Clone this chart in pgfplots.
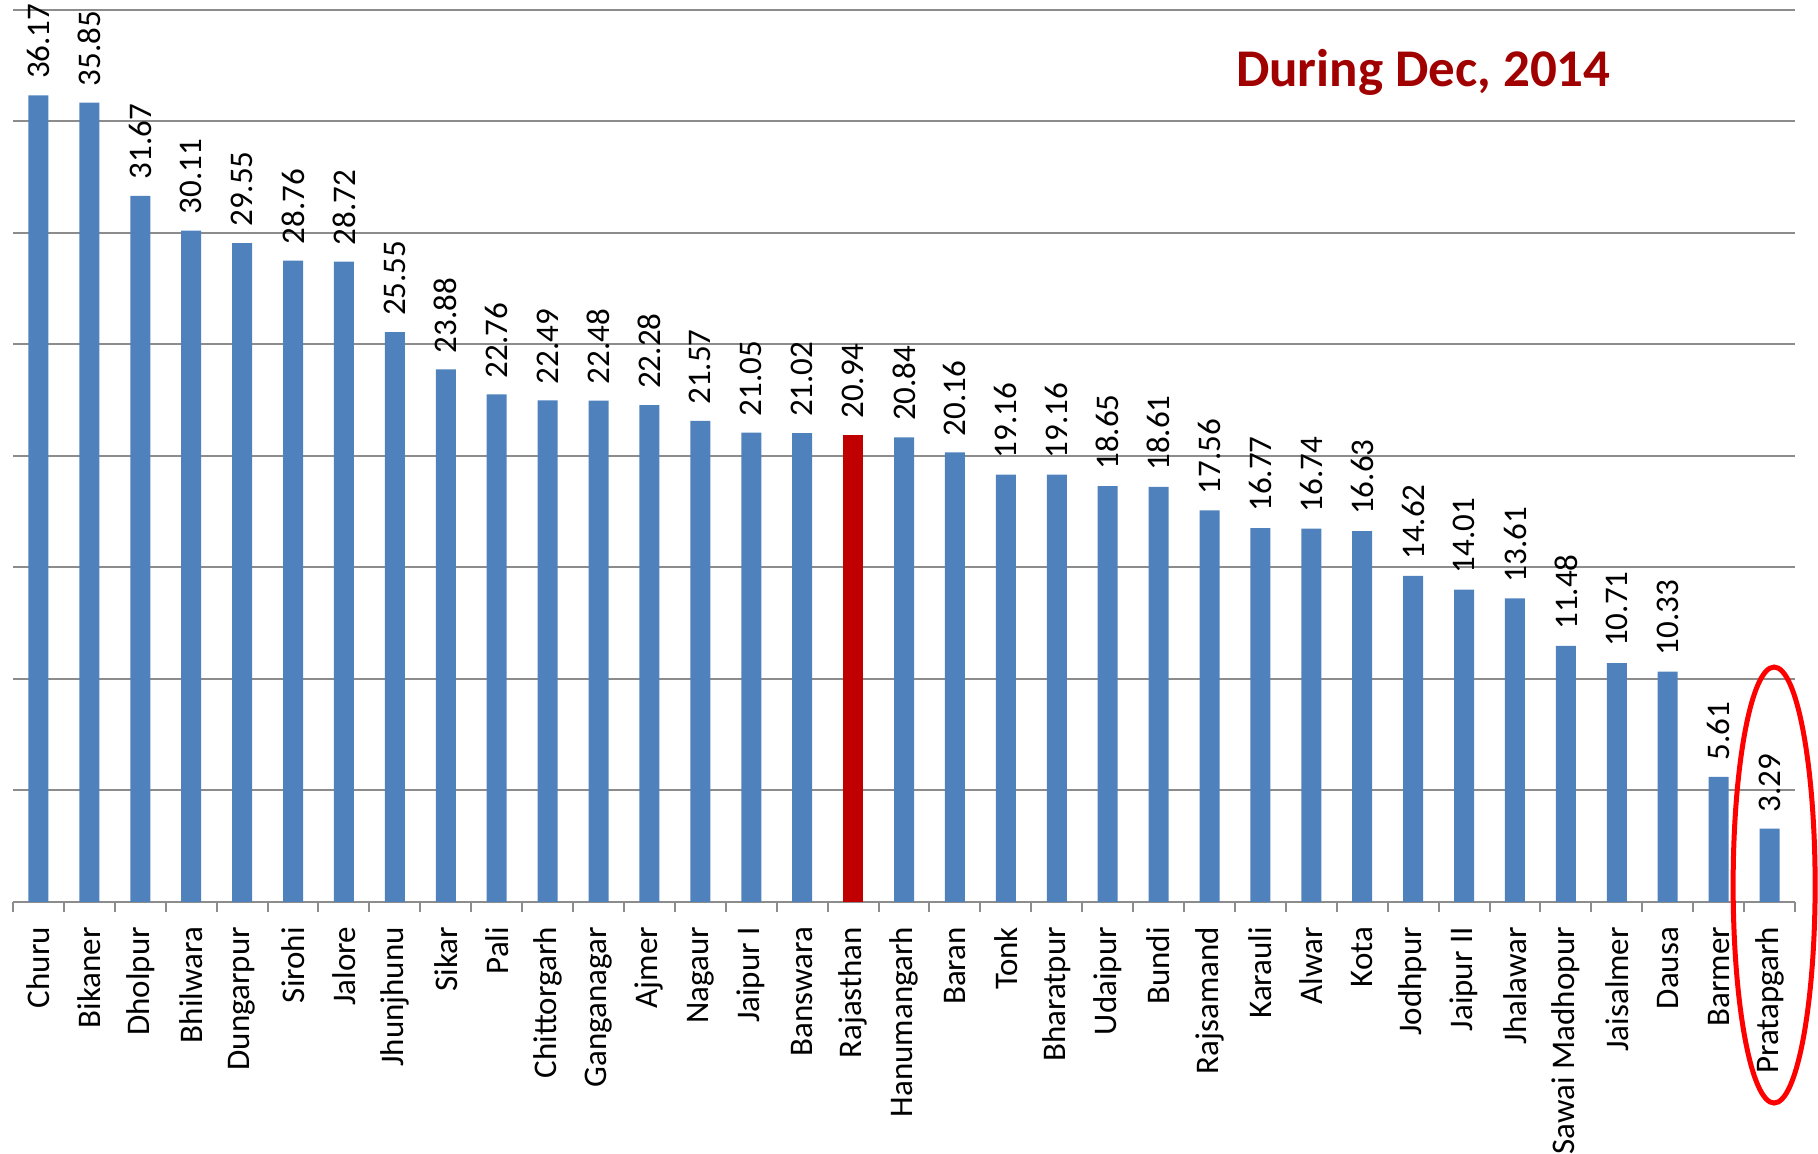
\documentclass[border=0pt]{standalone}
\usepackage{pgfplots}
\pgfplotsset{compat=1.18}
\usepackage{fontspec}
\setmainfont{Carlito}
\definecolor{barblue}{HTML}{4F81BD}
\definecolor{barred}{HTML}{C00000}
\definecolor{titlered}{HTML}{A00000}
\definecolor{gridgray}{HTML}{8C8C8C}

\begin{document}
\begin{tikzpicture}
\begin{axis}[
    scale only axis,
    width=891pt, height=446pt,
    xmin=-0.5, xmax=34.5,
    ymin=0, ymax=40,
    clip=false,
    axis lines*=left,
    y axis line style={draw=none},
    x axis line style={-, draw=gridgray, line width=1pt},
    ytick={5,10,...,40},
    yticklabels={},
    ytick style={draw=none},
    ymajorgrids,
    major grid style={draw=gridgray, line width=1pt},
    xtick={0,...,34},
    xticklabels={Churu,Bikaner,Dholpur,Bhilwara,Dungarpur,Sirohi,Jalore,Jhunjhunu,Sikar,Pali,Chittorgarh,Ganganagar,Ajmer,Nagaur,Jaipur I,Banswara,Rajasthan,Hanumangarh,Baran,Tonk,Bharatpur,Udaipur,Bundi,Rajsamand,Karauli,Alwar,Kota,Jodhpur,Jaipur II,Jhalawar,Sawai Madhopur,Jaisalmer,Dausa,Barmer,Pratapgarh},
    major tick length=0pt,
    minor xtick={-0.5,0.5,...,34.5},
    minor tick length=5pt,
    tick align=outside,
    minor tick style={draw=gridgray, line width=1pt},
    xticklabel style={yshift=-9pt, rotate=90, anchor=east, font=\fontsize{16.5}{18}\selectfont},
    nodes near coords,
    every node near coord/.style={rotate=90, anchor=west, font=\fontsize{16.5}{18}\selectfont, inner sep=8pt},
    /pgf/number format/.cd, fixed, fixed zerofill, precision=2, assume math mode=true,
]
\addplot[ybar, bar shift=0pt, bar width=10pt, fill=barblue, draw=none] coordinates {
(0,36.17) (1,35.85) (2,31.67) (3,30.11) (4,29.55) (5,28.76) (6,28.72)
(7,25.55) (8,23.88) (9,22.76) (10,22.49) (11,22.48) (12,22.28) (13,21.57)
(14,21.05) (15,21.02) (17,20.84) (18,20.16) (19,19.16) (20,19.16)
(21,18.65) (22,18.61) (23,17.56) (24,16.77) (25,16.74) (26,16.63) (27,14.62)
(28,14.01) (29,13.61) (30,11.48) (31,10.71) (32,10.33) (33,5.61) (34,3.29)
};
\addplot[ybar, bar shift=0pt, bar width=10pt, fill=barred, draw=none] coordinates {(16,20.94)};
\coordinate (bl) at (rel axis cs:0,0);
\node[text=titlered, font=\fontsize{26.5}{30}\selectfont\bfseries] at (axis cs:27.2,37.2) {During Dec, 2014};
\draw[red, line width=2.5pt] (axis cs:34.09,0.76) ellipse [x radius=20.5pt, y radius=109pt];
\end{axis}
\pgfresetboundingbox
\path (bl) ++(-6.5pt,-126pt) rectangle ++(909pt,577pt);
\end{tikzpicture}
\end{document}
